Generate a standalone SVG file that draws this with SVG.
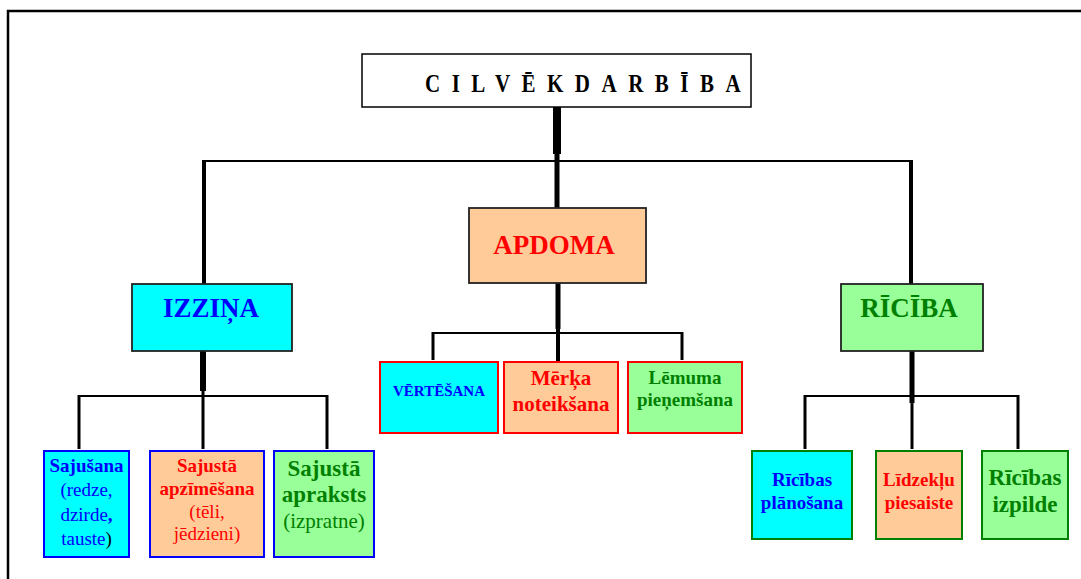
<svg xmlns="http://www.w3.org/2000/svg" width="1081" height="579" viewBox="0 0 1081 579">
<style>
text{font-family:"Liberation Serif","Times New Roman",serif;text-anchor:middle}
.b{font-weight:bold}
.blue{fill:#0000FF}.red{fill:#FF0000}.green{fill:#008000}
.main{stroke:#222;stroke-width:1.8}
.cy{fill:#00FFFF}.pe{fill:#FFCC99}.gr{fill:#99FF99}
.sb{stroke:#0000FF;stroke-width:2}.sr{stroke:#FF0000;stroke-width:2}.sg{stroke:#008000;stroke-width:2}
.ln{stroke:#000;fill:none}
</style>
<rect width="1081" height="579" fill="#fff"/>
<path d="M8,579 V11 H1081" fill="none" stroke="#000" stroke-width="2.5"/>
<g id="connectors" class="ln">
<line x1="557" y1="107" x2="557" y2="154" stroke-width="8"/>
<line x1="557" y1="154" x2="557" y2="209" stroke-width="5"/>
<line x1="202" y1="161" x2="913" y2="161" stroke-width="2"/>
<line x1="204" y1="160" x2="204" y2="285" stroke-width="4"/>
<line x1="911" y1="160" x2="911" y2="285" stroke-width="4"/>
<line x1="203" y1="351" x2="203" y2="391" stroke-width="6"/>
<line x1="78" y1="396" x2="328" y2="396" stroke-width="2"/>
<line x1="79" y1="395" x2="79" y2="449" stroke-width="3"/>
<line x1="203" y1="391" x2="203" y2="449" stroke-width="3"/>
<line x1="327" y1="395" x2="327" y2="449" stroke-width="3"/>
<line x1="558" y1="283" x2="558" y2="329" stroke-width="5"/>
<line x1="432" y1="333" x2="683" y2="333" stroke-width="2"/>
<line x1="433" y1="332" x2="433" y2="360" stroke-width="3"/>
<line x1="682" y1="332" x2="682" y2="360" stroke-width="3"/>
<line x1="558" y1="329" x2="558" y2="364" stroke-width="4"/>
<line x1="912" y1="351" x2="912" y2="403" stroke-width="5"/>
<line x1="804" y1="396" x2="1019" y2="396" stroke-width="2"/>
<line x1="805" y1="395" x2="805" y2="449" stroke-width="3"/>
<line x1="912" y1="403" x2="912" y2="449" stroke-width="3"/>
<line x1="1018" y1="395" x2="1018" y2="449" stroke-width="3"/>
</g>
<g id="cilvekdarbiba">
<rect x="362" y="54" width="389" height="53" fill="#fff" stroke="#000" stroke-width="1.5"/>
<text x="425" y="92" class="b" style="text-anchor:start;font-size:21px;letter-spacing:11.5px" transform="translate(0,92) scale(1,1.22) translate(0,-92)">CILVĒKDARBĪBA</text>
</g>
<g id="izzina">
<rect x="132" y="284" width="160" height="67" class="cy main"/>
<text x="211" y="317" class="b blue" font-size="27">IZZIŅA</text>
</g>
<g id="apdoma">
<rect x="469" y="208" width="177" height="75" class="pe main"/>
<text x="554" y="254" class="b red" font-size="27">APDOMA</text>
</g>
<g id="riciba">
<rect x="841" y="284" width="142" height="67" class="gr main"/>
<text x="909" y="317" class="b green" font-size="27">RĪCĪBA</text>
</g>
<g id="sajusana">
<rect x="44" y="451" width="85" height="106" class="cy sb"/>
<text x="86.5" y="472" class="b blue" font-size="19">Sajušana</text>
<text x="86.5" y="496" class="blue" font-size="19">(redze,</text>
<text x="86.5" y="521" class="blue" font-size="19">dzirde<tspan font-weight="bold">,</tspan></text>
<text x="86.5" y="545" class="blue" font-size="19">tauste<tspan fill="#000">)</tspan></text>
</g>
<g id="apzimesana">
<rect x="150" y="451" width="114" height="106" class="pe sb"/>
<text x="207" y="472" class="b red" font-size="19">Sajustā</text>
<text x="207" y="495" class="b red" font-size="19">apzīmēšana</text>
<text x="207" y="518" class="red" font-size="19">(tēli,</text>
<text x="207" y="540" class="red" font-size="19">jēdzieni)</text>
</g>
<g id="apraksts">
<rect x="274" y="451" width="100" height="106" class="gr sb"/>
<text x="324" y="476" class="b green" font-size="23">Sajustā</text>
<text x="324" y="502" class="b green" font-size="23">apraksts</text>
<text x="324" y="528" class="green" font-size="21">(izpratne)</text>
</g>
<g id="vertesana">
<rect x="380" y="362" width="118" height="71" class="cy sr"/>
<text x="439" y="396" class="b blue" font-size="15">VĒRTĒŠANA</text>
</g>
<g id="merka">
<rect x="504" y="362" width="114" height="71" class="pe sr"/>
<text x="561" y="385" class="b red" font-size="21">Mērķa</text>
<text x="561" y="411" class="b red" font-size="21">noteikšana</text>
</g>
<g id="lemuma">
<rect x="628" y="362" width="114" height="71" class="gr sr"/>
<text x="685" y="384" class="b green" font-size="19">Lēmuma</text>
<text x="685" y="406" class="b green" font-size="19">pieņemšana</text>
</g>
<g id="planosana">
<rect x="752" y="451" width="100" height="88" class="cy sg"/>
<text x="802" y="486" class="b blue" font-size="19">Rīcības</text>
<text x="802" y="509" class="b blue" font-size="19">plānošana</text>
</g>
<g id="lidzeklu">
<rect x="876" y="451" width="86" height="88" class="pe sg"/>
<text x="919" y="486" class="b red" font-size="19">Līdzekļu</text>
<text x="919" y="509" class="b red" font-size="19">piesaiste</text>
</g>
<g id="izpilde">
<rect x="982" y="451" width="86" height="88" class="gr sg"/>
<text x="1025" y="485" class="b green" font-size="23">Rīcības</text>
<text x="1025" y="512" class="b green" font-size="23">izpilde</text>
</g>
</svg>
